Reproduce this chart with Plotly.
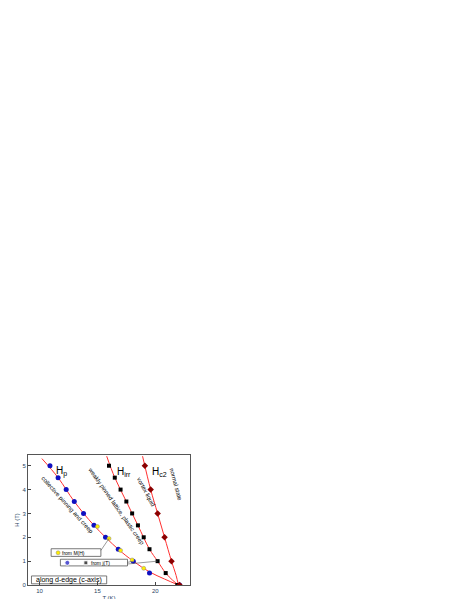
import plotly.graph_objects as go

hp_T = [10.9, 11.6, 12.3, 13.0, 13.8, 14.7, 15.7, 16.8, 18.1, 19.5, 22.1]
hp_H = [5, 4.5, 4, 3.5, 3, 2.5, 2, 1.5, 1, 0.5, 0]
mh_T = [15.0, 16.0, 17.0, 18.0, 19.0]
mh_H = [2.45, 1.95, 1.45, 1.05, 0.7]
irr_T = [16.0, 16.5, 17.0, 17.5, 18.0, 18.5, 19.0, 19.5, 20.2, 20.9, 21.9]
irr_H = [5, 4.5, 4, 3.5, 3, 2.5, 2, 1.5, 1, 0.5, 0]
c2_T = [19.1, 19.6, 20.2, 20.8, 21.4, 22.1]
c2_H = [5, 4, 3, 2, 1, 0]
fp_T = [10.2, 11.6, 13.0, 14.7, 16.8, 18.1, 19.5, 20.8, 22.0]
fp_H = [5.3, 4.5, 3.5, 2.5, 1.5, 1.0, 0.55, 0.25, 0]
fi_T = [15.8, 16.5, 17.5, 18.5, 19.5, 20.2, 20.9, 21.5, 22.0]
fi_H = [5.4, 4.5, 3.5, 2.5, 1.5, 1.0, 0.5, 0.2, 0]
fc_T = [18.9, 19.6, 20.2, 20.8, 21.4, 21.8, 22.0]
fc_H = [5.4, 4, 3, 2, 1, 0.4, 0]

fig = go.Figure()
for x, y in [(fp_T, fp_H), (fi_T, fi_H), (fc_T, fc_H)]:
    fig.add_trace(go.Scatter(x=x, y=y, mode="lines", line=dict(color="#ff3030", width=1, shape="spline")))
fig.add_trace(go.Scatter(x=hp_T, y=hp_H, mode="markers", marker=dict(symbol="circle", size=5, color="#1010c0")))
fig.add_trace(go.Scatter(x=mh_T, y=mh_H, mode="markers", marker=dict(symbol="circle", size=4, color="#ffee00", line=dict(color="#888", width=0.5))))
fig.add_trace(go.Scatter(x=irr_T, y=irr_H, mode="markers", marker=dict(symbol="square", size=4, color="black")))
fig.add_trace(go.Scatter(x=c2_T, y=c2_H, mode="markers", marker=dict(symbol="diamond", size=5, color="#8b0000")))
fig.add_trace(go.Scatter(x=[11.6], y=[1.35], mode="markers", marker=dict(symbol="circle", size=4, color="#ffee00", line=dict(color="#888", width=0.5))))
fig.add_trace(go.Scatter(x=[12.4, 14.0], y=[0.93, 0.93], mode="markers", marker=dict(symbol=["circle", "square"], size=[5, 4], color=["#1010c0", "black"])))

FAM = "Liberation Sans, Arial"
ann = [
    (11.9, 4.75, "H<sub>p</sub>", 10, 0),
    (17.3, 4.75, "H<sub>irr</sub>", 10, 0),
    (20.4, 4.75, "H<sub>c2</sub>", 10, 0),
    (21.8, 4.2, "normal state", 6, 75),
    (19.2, 3.9, "vortex liquid", 6, 62),
    (16.6, 3.3, "weakly pinned lattice, plastic creep", 6, 55),
    (12.4, 3.35, "collective pinning and creep", 6, 48),
]
for x, y, t, s, ang in ann:
    fig.add_annotation(x=x, y=y, text=t, showarrow=False, textangle=ang,
                       font=dict(family=FAM, size=s, color="black"))
boxes = [
    (12.9, 1.35, "from M(H)", 5, (11.0, 15.3, 1.2, 1.52)),
    (15.3, 0.93, "from j(T)", 5, (11.8, 17.6, 0.8, 1.08)),
    (12.5, 0.2, "along d-edge (c-axis)", 7, (9.3, 15.8, 0.05, 0.38)),
]
for x, y, t, s, (x0, x1, y0, y1) in boxes:
    fig.add_shape(type="rect", x0=x0, x1=x1, y0=y0, y1=y1, line=dict(color="#555", width=0.8), fillcolor="white", layer="below")
    fig.add_annotation(x=x, y=y, text=t, showarrow=False, font=dict(family=FAM, size=s, color="black"))
for x0, y0, x1, y1 in [(15.3, 1.45, 16.0, 1.95), (17.6, 0.95, 18.1, 1.0), (17.6, 0.88, 20.2, 1.0)]:
    fig.add_shape(type="line", x0=x0, y0=y0, x1=x1, y1=y1, line=dict(color="#555", width=0.6))

ax = dict(showline=True, mirror=True, linecolor="#555", ticks="inside", ticklen=3, showgrid=False, zeroline=False,
          automargin=False, tickfont=dict(family=FAM, size=6))
fig.update_layout(width=463, height=599, margin=dict(l=20, r=281, t=447, b=22),
                  plot_bgcolor="white", paper_bgcolor="white", showlegend=False,
                  xaxis=dict(ax, range=[9, 23], tickvals=[10, 15, 20], title=dict(text="T (K)", font=dict(family=FAM, size=6), standoff=2)),
                  yaxis=dict(ax, range=[0, 5.45], dtick=1, title=dict(text="H (T)", font=dict(family=FAM, size=6), standoff=2)))
fig.write_html("out.html")
